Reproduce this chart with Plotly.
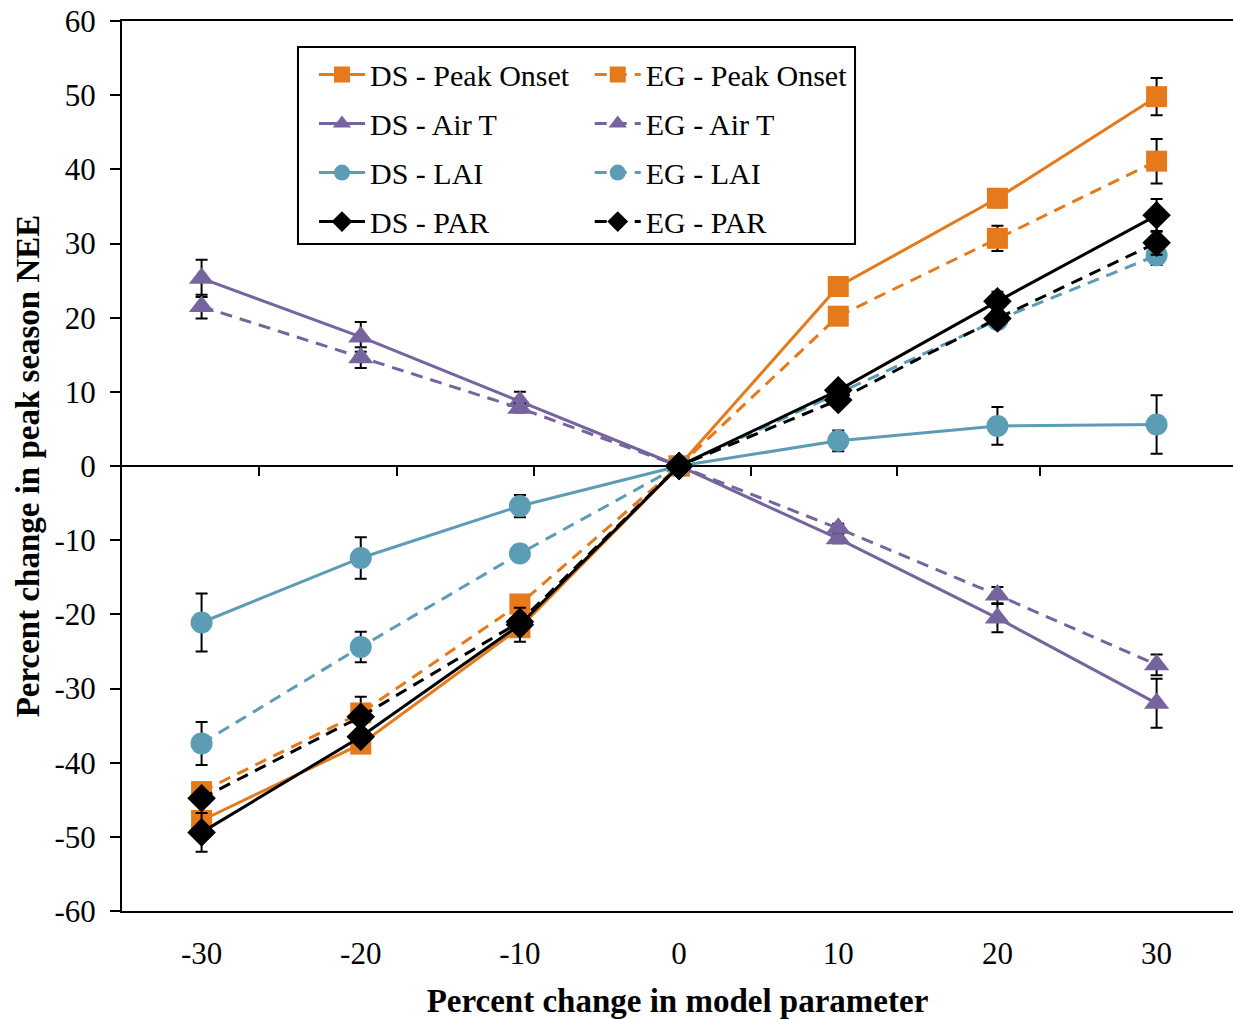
import plotly.graph_objects as go

# ---------------- data ----------------
x_vals = [-30, -20, -10, 0, 10, 20, 30]
x_tick_text = ["-30", "-20", "-10", "0", "10", "20", "30"]
y_tick_vals = [-60, -50, -40, -30, -20, -10, 0, 10, 20, 30, 40, 50, 60]
y_tick_text = ["-60", "-50", "-40", "-30", "-20", "-10", "0", "10", "20", "30", "40", "50", "60"]
zero_axis_ticks = [-26.4, -17.7, -9.1, 4.5, 13.7, 22.7]

ds_peak = [-47.8, -37.5, -21.8, 0, 24.2, 36.1, 49.8]
ds_peak_err = [0.6, 0.6, 0.6, 0, 0.6, 1.2, 2.5]
eg_peak = [-43.9, -33.3, -18.6, 0, 20.2, 30.7, 41.1]
eg_peak_err = [0.6, 2.2, 0.6, 0, 0.6, 1.7, 3.0]

ds_airt = [25.3, 17.4, 8.7, 0, -9.8, -20.5, -32.0]
ds_airt_err = [2.5, 2.0, 1.3, 0, 0.6, 1.9, 3.3]
eg_airt = [21.5, 14.6, 7.8, 0, -8.4, -17.4, -26.8]
eg_airt_err = [1.6, 1.4, 0.6, 0, 0.6, 1.1, 1.4]

ds_lai = [-21.1, -12.4, -5.4, 0, 3.4, 5.4, 5.6]
ds_lai_err = [3.9, 2.8, 1.5, 0, 1.4, 2.55, 3.95]
eg_lai = [-37.4, -24.4, -11.8, 0, 9.8, 19.7, 28.4]
eg_lai_err = [2.9, 2.05, 0.6, 0, 0.6, 0.6, 1.3]

ds_par = [-49.4, -36.5, -21.4, 0, 10.2, 22.2, 33.8]
ds_par_err = [2.6, 0.6, 2.3, 0, 0.6, 1.3, 2.2]
eg_par = [-44.8, -33.8, -21.0, 0, 8.9, 19.9, 30.1]
eg_par_err = [0.6, 0.6, 0.6, 0, 0.6, 0.6, 1.6]

# ---------------- style ----------------
ORANGE = "#E47A1C"
PURPLE = "#76649E"
TEAL = "#5C9DB5"
BLACK = "#000000"
FONT = "Liberation Serif"

series = [
    ("DS - Peak Onset", ds_peak, ds_peak_err, ORANGE, "square", "solid", 21, "legend"),
    ("EG - Peak Onset", eg_peak, eg_peak_err, ORANGE, "square", "12px,8px", 21, "legend2"),
    ("DS - Air T", ds_airt, ds_airt_err, PURPLE, "triangle-up", "solid", 22, "legend"),
    ("EG - Air T", eg_airt, eg_airt_err, PURPLE, "triangle-up", "12px,8px", 22, "legend2"),
    ("DS - LAI", ds_lai, ds_lai_err, TEAL, "circle", "solid", 22, "legend"),
    ("EG - LAI", eg_lai, eg_lai_err, TEAL, "circle", "12px,8px", 22, "legend2"),
    ("DS - PAR", ds_par, ds_par_err, BLACK, "diamond", "solid", 22, "legend"),
    ("EG - PAR", eg_par, eg_par_err, BLACK, "diamond", "12px,8px", 22, "legend2"),
]

fig = go.Figure()
for i, (name, ys, errs, color, sym, dash, msize, leg) in enumerate(series):
    fig.add_trace(go.Scatter(
        x=x_vals, y=ys, name=name, mode="lines+markers",
        line=dict(color=color, width=3, dash=dash),
        marker=dict(symbol=sym, size=msize, color=color, line=dict(width=0)),
        error_y=dict(type="data", array=errs, visible=True, color="black",
                     thickness=2, width=6),
        legend=leg, legendgroup=name,
    ))

# invisible trace to host the tick-only axis along y = 0
fig.add_trace(go.Scatter(x=[None], y=[None], xaxis="x2", showlegend=False,
                         hoverinfo="skip", mode="markers"))

fig.update_layout(
    width=1233, height=1019,
    margin=dict(l=122, r=0, t=21, b=108),
    paper_bgcolor="white", plot_bgcolor="white",
    font=dict(family=FONT, size=30, color="black"),
    showlegend=True,
    xaxis=dict(
        range=[-35, 34.8], tickmode="array", tickvals=x_vals, ticktext=x_tick_text,
        ticks="", showline=True, mirror=True, linecolor="black", linewidth=2,
        showgrid=False, zeroline=False,
        tickfont=dict(family=FONT, size=31),
        ticklabelstandoff=14,
        title=dict(text="<b>Percent change in model parameter</b>",
                   font=dict(family=FONT, size=33), standoff=21),
    ),
    xaxis2=dict(
        overlaying="x", anchor="free", position=0.5, side="bottom",
        range=[-35, 34.8], tickmode="array", tickvals=zero_axis_ticks,
        ticks="outside", ticklen=9, tickwidth=2, tickcolor="black",
        showticklabels=False, showline=False, showgrid=False, zeroline=False,
    ),
    yaxis=dict(
        range=[-60, 60], tickmode="array", tickvals=y_tick_vals, ticktext=y_tick_text,
        ticks="outside", ticklen=10, tickwidth=2, tickcolor="black",
        showline=True, linecolor="black", linewidth=2,
        showgrid=False, zeroline=True, zerolinecolor="black", zerolinewidth=2,
        tickfont=dict(family=FONT, size=31),
        ticklabelstandoff=8,
        title=dict(text="<b>Percent change in peak season NEE</b>",
                   font=dict(family=FONT, size=33), standoff=5),
    ),
    legend=dict(
        x=0.1728, y=0.969, xanchor="left", yanchor="top",
        bgcolor="rgba(0,0,0,0)", borderwidth=0,
        font=dict(family=FONT, size=30), tracegroupgap=7,
        itemwidth=46,
    ),
    legend2=dict(
        x=0.421, y=0.969, xanchor="left", yanchor="top",
        bgcolor="rgba(0,0,0,0)", borderwidth=0,
        font=dict(family=FONT, size=30), tracegroupgap=7,
        itemwidth=46,
    ),
    shapes=[dict(type="rect", xref="paper", yref="paper",
                 x0=0.1584, x1=0.6598, y0=0.7494, y1=0.9708,
                 line=dict(color="black", width=2), fillcolor="white",
                 layer="below")],
)

fig.write_html("out.html")
